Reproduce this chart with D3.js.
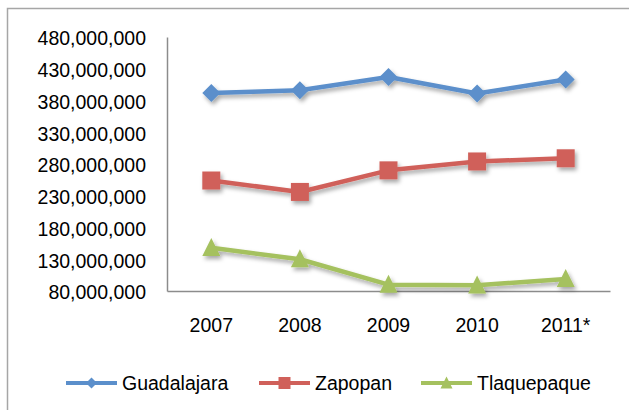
<!DOCTYPE html>
<html>
<head>
<meta charset="utf-8">
<script src="https://cdn.jsdelivr.net/npm/d3@7"></script>
<style>
    body { margin: 0; background: #fff; }
    text { font-family: "Liberation Sans", Arial, sans-serif; fill: #000; }
</style>
</head>
<body>
<div id="chart"></div>
<script>
const width = 629;
const height = 410;

// chart data
const years = ["2007", "2008", "2009", "2010", "2011*"];
const guadalajara = [392000000, 396000000, 417000000, 391000000, 413000000];
const zapopan = [254000000, 236000000, 270000000, 284000000, 289000000];
const tlaquepaque = [148000000, 130000000, 90000000, 89000000, 99000000];
const yTicks = [80000000, 130000000, 180000000, 230000000, 280000000,
    330000000, 380000000, 430000000, 480000000];

const series = [
    {name: "Guadalajara", values: guadalajara, color: "#5B8FCB", shape: "diamond"},
    {name: "Zapopan", values: zapopan, color: "#D0605A", shape: "square"},
    {name: "Tlaquepaque", values: tlaquepaque, color: "#A5C15F", shape: "triangle"}
];

const plot = {left: 167, right: 610, top: 37, bottom: 291};

const svg = d3.select("#chart")
    .append("svg")
        .attr("width", width)
        .attr("height", height);

// soft shadow under the lines and markers
const filter = svg.append("defs").append("filter")
    .attr("id", "shadow")
    .attr("x", "-20%").attr("y", "-20%")
    .attr("width", "140%").attr("height", "160%");
filter.append("feDropShadow")
    .attr("dx", 2).attr("dy", 3)
    .attr("stdDeviation", 2)
    .attr("flood-color", "#000")
    .attr("flood-opacity", 0.35);

// outer chart border (runs off the right and bottom)
svg.append("rect")
    .attr("x", 7.5).attr("y", 8.5)
    .attr("width", 700).attr("height", 500)
    .attr("fill", "none")
    .attr("stroke", "#a6a6a6")
    .attr("stroke-width", 1.5);

const x = d3.scaleBand()
    .domain(years)
    .range([plot.left, plot.right]);

const y = d3.scaleLinear()
    .domain([80000000, 480000000])
    .range([plot.bottom, plot.top]);

// y axis
const yAxis = svg.append("g")
    .attr("transform", `translate(${plot.left},0)`)
    .call(d3.axisLeft(y)
        .tickValues(yTicks)
        .tickSize(0)
        .tickPadding(21)
        .tickFormat(d3.format(",")));
yAxis.select(".domain").attr("stroke", "#8c8c8c").attr("stroke-width", 1.5);
yAxis.selectAll("text")
    .attr("font-size", "19.5px")
    .attr("dy", "0.4em");

// x axis
const xAxis = svg.append("g")
    .attr("transform", `translate(0,${plot.bottom})`)
    .call(d3.axisBottom(x).tickSize(0).tickPadding(27));
xAxis.select(".domain").attr("stroke", "#8c8c8c").attr("stroke-width", 1.5);
xAxis.selectAll("text")
    .attr("font-size", "19.5px")
    .attr("dy", "0.71em");

const line = d3.line()
    .x((d, i) => x(years[i]) + x.bandwidth() / 2)
    .y(d => y(d));

function markerPath(shape, s) {
    if (shape == "diamond") {
        return `M0,${-s / 2}L${s / 2},0L0,${s / 2}L${-s / 2},0Z`;
    } else if (shape == "square") {
        return `M${-s / 2},${-s / 2}h${s}v${s}h${-s}Z`;
    } else {
        return `M0,${-s * 0.55}L${s / 2},${s * 0.45}L${-s / 2},${s * 0.45}Z`;
    }
}

const markerSize = {diamond: 18, square: 18, triangle: 18};

for (const s of series) {
    const g = svg.append("g").attr("filter", "url(#shadow)");
    g.append("path")
        .datum(s.values)
        .attr("d", line)
        .attr("fill", "none")
        .attr("stroke", s.color)
        .attr("stroke-width", 4.5)
        .attr("stroke-linejoin", "round");
    g.selectAll("path.marker")
        .data(s.values)
        .join("path")
            .attr("class", "marker")
            .attr("transform", (d, i) =>
                `translate(${x(years[i]) + x.bandwidth() / 2},${y(d)})`)
            .attr("d", markerPath(s.shape, markerSize[s.shape]))
            .attr("fill", s.color);
}

// legend
const legendY = 383;
const legendX = [66, 259, 421];
const legend = svg.append("g")
    .selectAll("g")
    .data(series)
    .join("g")
        .attr("transform", (d, i) => `translate(${legendX[i]},${legendY})`);
legend.append("line")
    .attr("x1", 0).attr("x2", 51)
    .attr("stroke", d => d.color)
    .attr("stroke-width", 4);
legend.append("path")
    .attr("transform", "translate(25.5,0)")
    .attr("d", d => markerPath(d.shape, d.shape == "diamond" ? 11 : 12))
    .attr("fill", d => d.color);
legend.append("text")
    .attr("x", 56)
    .attr("dy", "0.36em")
    .attr("font-size", "19.5px")
    .text(d => d.name);
</script>
</body>
</html>
